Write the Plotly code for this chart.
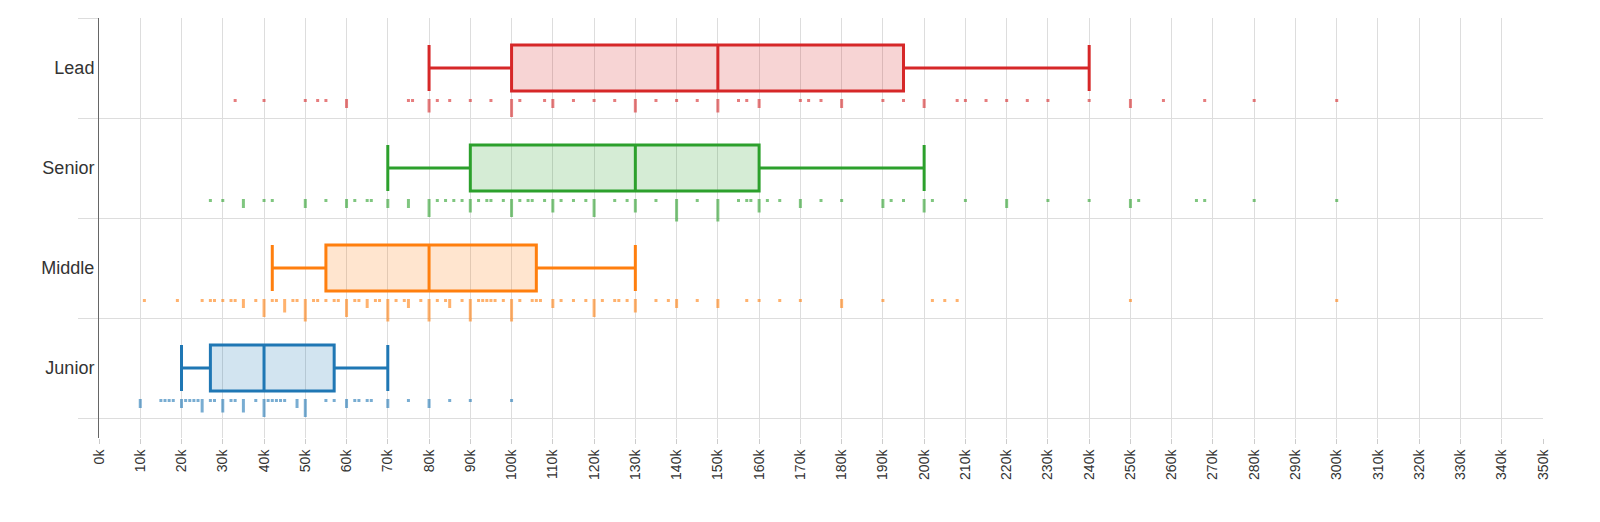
import plotly.graph_objects as go

levels = ["Junior", "Middle", "Senior", "Lead"]
colors = ["#1f77b4", "#ff7f0e", "#2ca02c", "#d62728"]
fills = ["rgba(31,119,180,0.2)", "rgba(255,127,14,0.2)", "rgba(44,160,44,0.2)", "rgba(214,39,40,0.2)"]
rugcol = ["rgba(31,119,180,0.6)", "rgba(255,127,14,0.6)", "rgba(44,160,44,0.6)", "rgba(214,39,40,0.6)"]

lower = [20, 42, 70, 80]
q1 = [27, 55, 90, 100]
median = [40, 80, 130, 150]
q3 = [57, 106, 160, 195]
upper = [70, 130, 200, 240]

junior_vals = [10,15,16,17,18,20,21,22,23,24,25,27,28,30,32,33,35,38,40,41,42,43,44,45,48,50,55,57,60,62,63,65,66,70,75,80,85,90,100]
junior_cnts = [2,1,1,1,1,2,1,1,1,1,3,1,1,3,1,1,3,1,4,1,1,1,1,1,2,4,1,1,2,1,1,1,1,2,1,2,1,1,1]
middle_vals = [11,19,25,27,28,30,32,33,35,38,40,42,43,45,47,48,50,52,53,55,57,58,60,62,63,65,67,68,70,72,74,75,78,80,82,84,85,88,90,92,93,94,95,96,98,100,102,105,106,107,110,112,115,118,120,122,125,126,128,130,135,138,140,145,150,157,160,165,170,180,190,202,205,208,250,300]
middle_cnts = [1,1,1,1,1,1,1,1,2,1,4,1,1,3,1,1,5,1,1,1,1,1,4,1,1,2,1,1,5,1,1,2,1,5,1,1,2,1,5,1,1,1,1,1,1,5,1,1,1,1,2,1,1,1,4,1,1,1,1,3,1,1,2,1,2,1,1,1,1,2,1,1,1,1,1,1]
senior_vals = [27,30,35,40,42,50,55,60,62,65,66,70,75,80,82,84,86,88,90,92,94,95,98,100,102,104,105,108,110,112,115,118,120,125,128,130,135,140,145,150,155,157,158,160,162,165,170,175,180,190,192,195,200,202,210,220,230,240,250,252,266,268,280,300]
senior_cnts = [1,1,2,1,1,2,1,2,1,1,1,2,2,4,1,1,1,1,3,1,1,1,1,4,1,1,1,1,3,1,1,1,4,1,1,3,1,5,1,5,1,1,1,3,1,1,2,1,1,2,1,1,3,1,1,2,1,1,2,1,1,1,1,1]
lead_vals = [33,40,50,53,55,60,75,76,80,82,85,90,95,100,102,108,110,115,120,125,130,135,140,145,150,155,157,160,170,172,175,180,190,195,200,208,210,215,220,225,230,240,250,258,268,280,300]
lead_cnts = [1,1,1,1,1,2,1,1,3,1,1,1,1,4,1,1,2,1,1,1,3,1,1,1,3,1,1,2,1,1,1,2,1,1,2,1,1,1,1,1,1,1,2,1,1,1,1]

rug_vals = [junior_vals, middle_vals, senior_vals, lead_vals]
rug_cnts = [junior_cnts, middle_cnts, senior_cnts, lead_cnts]

x_ticks = list(range(0, 351, 10))
x_labels = [f"{v}k" for v in x_ticks]

fig = go.Figure()
for i, lv in enumerate(levels):
    fig.add_trace(go.Box(
        orientation="h", y=[i], q1=[q1[i]], median=[median[i]], q3=[q3[i]],
        lowerfence=[lower[i]], upperfence=[upper[i]], width=0.46,
        line=dict(color=colors[i], width=3), fillcolor=fills[i],
        whiskerwidth=1, boxpoints=False, hoverinfo="skip", showlegend=False))
    xs, ys = [], []
    for v, c in zip(rug_vals[i], rug_cnts[i]):
        top = i - 0.31
        h = 0.03 if c == 1 else 0.045 * c
        xs += [v, v, None]
        ys += [top, top - h, None]
    fig.add_trace(go.Scatter(x=xs, y=ys, mode="lines",
                             line=dict(color=rugcol[i], width=3),
                             hoverinfo="skip", showlegend=False))

fig.update_layout(
    width=1600, height=522, paper_bgcolor="white", plot_bgcolor="white",
    margin=dict(l=91, r=65, t=10, b=92),
    font=dict(family="Liberation Sans, Arial, sans-serif", color="#333"),
    xaxis=dict(range=[0, 350], tickvals=x_ticks, ticktext=x_labels, tickangle=-90,
               showgrid=True, gridcolor="#ddd", gridwidth=1, zeroline=False,
               ticks="outside", ticklen=5, tickcolor="#ccc", showline=False,
               automargin=False, tickfont=dict(size=14)),
    yaxis=dict(range=[-0.7, 3.5], tickvals=[0, 1, 2, 3], ticktext=levels,
               showgrid=False, zeroline=False, showline=True, linecolor="#666",
               ticks="", automargin=False, tickfont=dict(size=18),
               minor=dict(tick0=0.5, dtick=1, showgrid=True, gridcolor="#ddd", ticks="outside",
                          ticklen=20, tickcolor="#ddd")),
)
fig.write_html("out.html")
